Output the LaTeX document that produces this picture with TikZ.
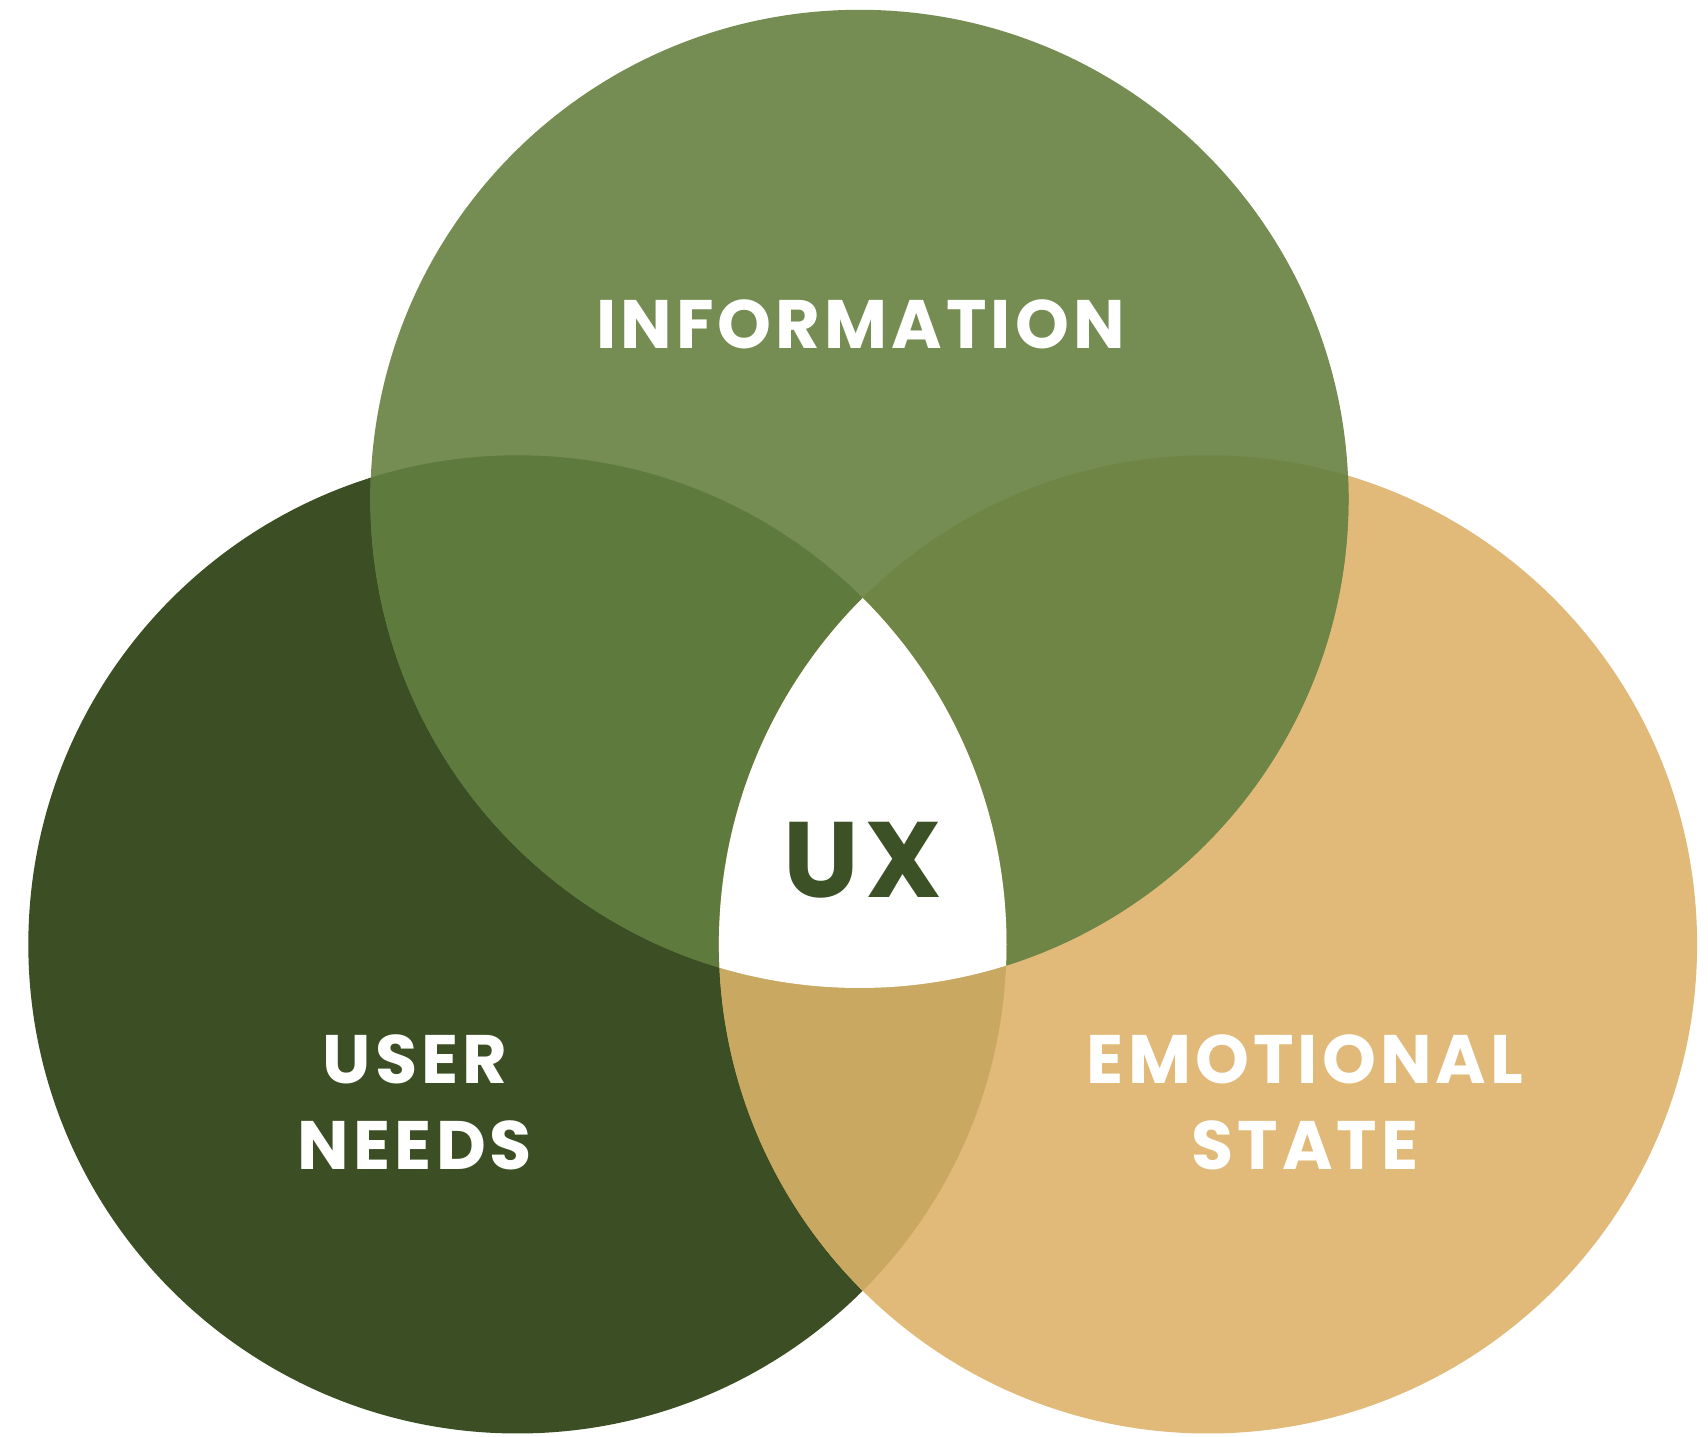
\documentclass[tikz,border=0pt]{standalone}
\usepackage{fontspec}
\setmainfont{Poppins}[LetterSpace=6]
\definecolor{infoG}{HTML}{758C52}
\definecolor{userG}{HTML}{3C4F24}
\definecolor{emoY}{HTML}{E1BA79}
\definecolor{infoUser}{HTML}{5F7A3D}
\definecolor{infoEmo}{HTML}{6F8546}
\definecolor{userEmo}{HTML}{C9A862}
\definecolor{uxText}{HTML}{3C5226}
\begin{document}
\begin{tikzpicture}[x=0.01cm,y=-0.01cm,
  label/.style={text=white,font=\bfseries\fontsize{17.9}{22.5}\selectfont,align=center},
  core/.style={text=uxText,font=\bfseries\fontsize{28}{32}\selectfont}]
\useasboundingbox (0,0) rectangle (1568,1319);
\def\rad{449}
\coordinate (T) at (789,458);
\coordinate (L) at (475,867);
\coordinate (R) at (1109,867);
% base circles
\fill[userG] (L) circle (\rad);
\fill[emoY] (R) circle (\rad);
\fill[infoG] (T) circle (\rad);
% pairwise overlaps
\begin{scope}
  \clip (L) circle (\rad);
  \fill[infoUser] (T) circle (\rad);
\end{scope}
\begin{scope}
  \clip (T) circle (\rad);
  \fill[infoEmo] (R) circle (\rad);
\end{scope}
\begin{scope}
  \clip (L) circle (\rad);
  \clip (R) circle (\rad);
  \fill[userEmo] (R) circle (\rad);
\end{scope}
% triple overlap
\begin{scope}
  \clip (L) circle (\rad);
  \clip (T) circle (\rad);
  \fill[white] (R) circle (\rad);
\end{scope}
% labels
\node[label] (info) at (790,298) {INFORMATION};
\node[label] (user) at (381,1012) {USER\\NEEDS};
\node[label] (emo) at (1198,1012) {EMOTIONAL\\STATE};
\node[core] (ux) at (792,790) {UX};
\end{tikzpicture}
\end{document}
